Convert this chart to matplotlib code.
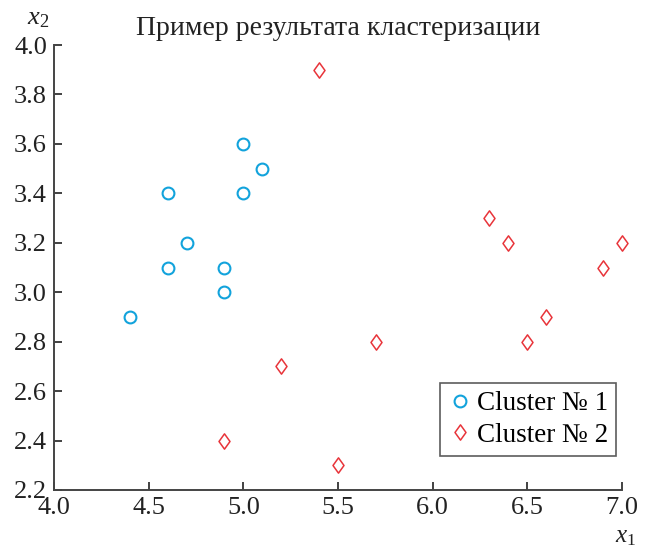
import matplotlib
matplotlib.use("Agg")
import matplotlib.pyplot as plt
from matplotlib.path import Path

# cluster 1 points
x_c1 = [4.4, 4.6, 4.6, 4.7, 4.9, 4.9, 5.0, 5.0, 5.1]
y_c1 = [2.9, 3.1, 3.4, 3.2, 3.0, 3.1, 3.4, 3.6, 3.5]

# cluster 2 points
x_c2 = [5.4, 6.3, 6.4, 7.0, 6.9, 6.6, 6.5, 5.7, 5.2, 4.9, 5.5]
y_c2 = [3.9, 3.3, 3.2, 3.2, 3.1, 2.9, 2.8, 2.8, 2.7, 2.4, 2.3]

x_ticks = [4.0, 4.5, 5.0, 5.5, 6.0, 6.5, 7.0]
y_ticks = [2.2, 2.4, 2.6, 2.8, 3.0, 3.2, 3.4, 3.6, 3.8, 4.0]

plt.rcParams["font.family"] = ["Liberation Serif", "DejaVu Serif"]
plt.rcParams["mathtext.fontset"] = "custom"
plt.rcParams["mathtext.it"] = "Liberation Serif:italic"
plt.rcParams["mathtext.rm"] = "Liberation Serif"

# slightly wider diamond than matplotlib's "d"
diamond = Path([(0, 1), (0.72, 0), (0, -1), (-0.72, 0), (0, 1)],
               [Path.MOVETO, Path.LINETO, Path.LINETO, Path.LINETO, Path.CLOSEPOLY])

fig = plt.figure(figsize=(6.51, 5.48), dpi=100)
ax = fig.add_axes([54 / 651, 58 / 548, 568 / 651, 445 / 548])

ax.plot(x_c1, y_c1, linestyle="none", marker="o", markersize=8.5,
        markerfacecolor="none", markeredgecolor="#12a3dc", markeredgewidth=1.5,
        label="Cluster № 1", clip_on=False)
ax.plot(x_c2, y_c2, linestyle="none", marker=diamond, markersize=11,
        markerfacecolor="none", markeredgecolor="#e8343a", markeredgewidth=1.1,
        label="Cluster № 2", clip_on=False)

ax.set_xlim(4.0, 7.0)
ax.set_ylim(2.2, 4.0)
ax.set_xticks(x_ticks)
ax.set_yticks(y_ticks)
ax.set_xticklabels([f"{v:.1f}" for v in x_ticks])
ax.set_yticklabels([f"{v:.1f}" for v in y_ticks])
ax.tick_params(direction="in", length=6, width=1.2, labelsize=19, colors="#222222")
ax.tick_params(axis="x", pad=5)
ax.tick_params(axis="y", pad=5)

for side in ["top", "right"]:
    ax.spines[side].set_visible(False)
for side in ["left", "bottom"]:
    ax.spines[side].set_color("#444444")
    ax.spines[side].set_linewidth(1.4)

ax.set_title("Пример результата кластеризации", fontsize=20, color="#222222", pad=7)
fig.text(38 / 651, 1 - 19 / 548, "$x_2$", fontsize=19, ha="center", va="center", color="#222222")
fig.text(626 / 651, 0.5 / 548, "$x_1$", fontsize=18, ha="center", va="bottom", color="#222222")

leg = ax.legend(loc="upper left", bbox_to_anchor=(440 / 651, 1 - 383 / 548),
                bbox_transform=fig.transFigure, borderaxespad=0, fontsize=19.5,
                frameon=True, fancybox=False, edgecolor="#333333",
                handletextpad=0.15, handlelength=0.9, borderpad=0.3, labelspacing=0.25)
leg.get_frame().set_linewidth(1.2)

fig.savefig("out.png", dpi=100)
